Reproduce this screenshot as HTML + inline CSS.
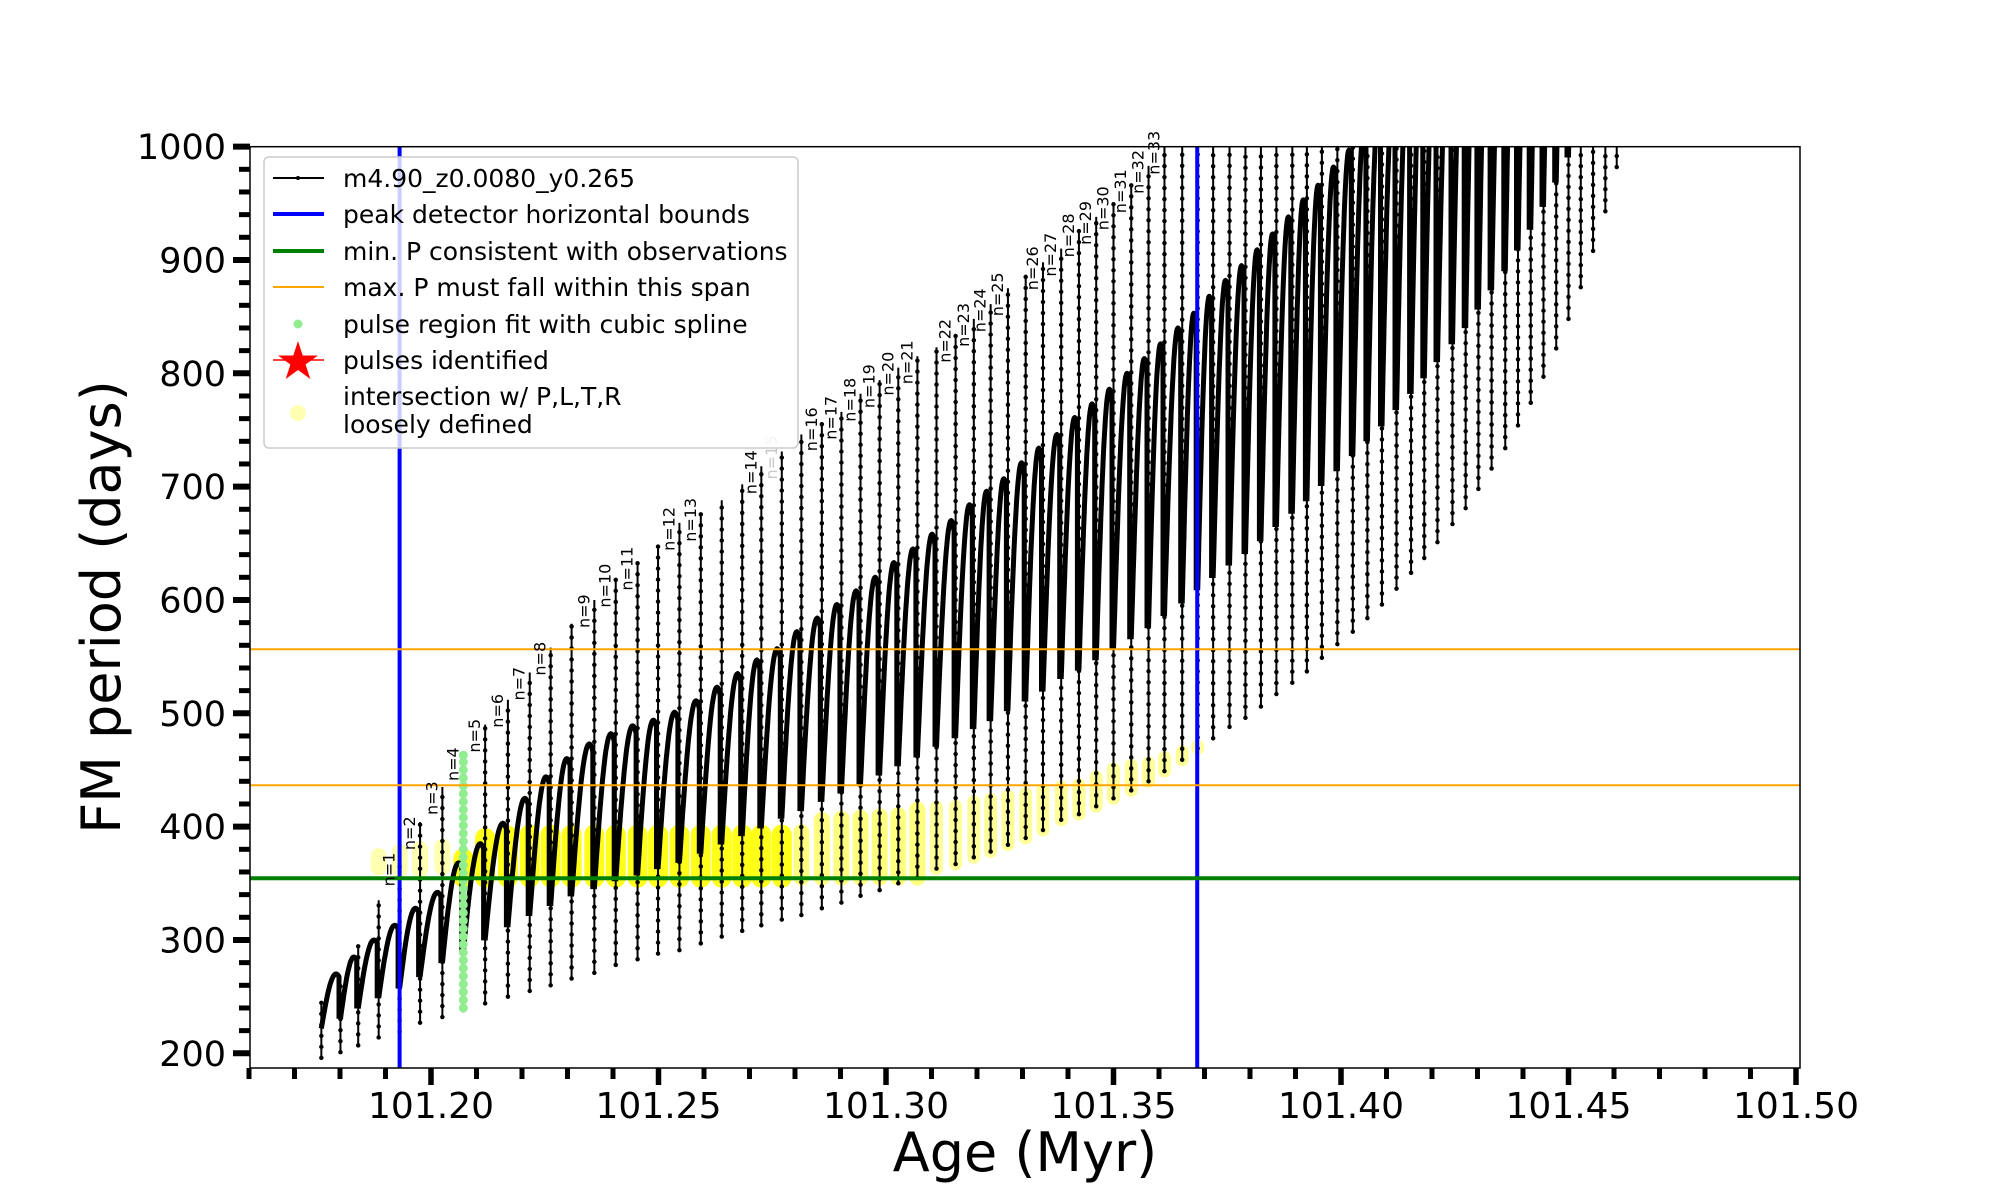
<!DOCTYPE html>
<html><head><meta charset="utf-8"><style>
html,body{margin:0;padding:0;background:#fff;}
svg{display:block;font-family:"DejaVu Sans","Liberation Sans",sans-serif;}
</style></head><body>
<svg id="chart" width="2000" height="1200" viewBox="0 0 2000 1200" xmlns="http://www.w3.org/2000/svg">
<defs><clipPath id="plotclip"><rect x="250" y="146.7" width="1550" height="921.3"/></clipPath></defs>
<g id="plot" clip-path="url(#plotclip)"></g>
<g id="axes"></g>
<g id="legend"></g>
</svg>
<script>
const ages=[101.1759,101.1801,101.1840,101.1885,101.1931,101.1976,101.2025,101.2071,101.2119,101.2169,
101.2217,101.2263,101.2309,101.2359,101.2406,101.2454,101.2499,101.2546,101.2593,101.2639,
101.2684,101.2726,101.2771,101.2814,101.2859,101.2902,101.2944,101.2986,101.3027,101.3069,
101.3111,101.3153,101.3193,101.3230,101.3268,101.3307,101.3345,101.3385,101.3424,101.3462,
101.3500,101.3539,101.3577,101.3612,101.3651,101.3685,101.3719,101.3755,101.3790,101.3824,
101.3858,101.3893,101.3925,101.3958,101.3992,101.4026,101.4058,101.4090,101.4122,101.4154,
101.4183,101.4212,101.4245,101.4274,101.4302,101.4331,101.4361,101.4389,101.4417,101.4445,
101.4473,101.4500,101.4527,101.4554,101.4581,101.4606];
const minP=[196,201,207,214,219,227,232,238,244,250,255,260,266,271,278,283,288,291,297,303,
308,313,318,322,328,333,339,344,350,355,363,367,373,378,384,390,397,406,411,418,
425,432,440,449,459,469,478,488,496,506,517,527,537,549,561,572,584,596,610,624,
637,651,667,681,698,716,734,754,774,797,822,848,876,908,943,982];
const topP=[245,262,296,335,372,404,435,465,490,512,536,558,579,600,618,633,648,668,676,688,
702,718,731,746,756,766,782,794,805,815,823,834,848,861,875,887,898,910,927,938,
951,966,983,1050,1050,1050,1050,1050,1050,1050,1050,1050,1050,1050,1050,1050,1050,1050,1050,1050,
1050,1050,1050,1050,1050,1050,1050,1050,1050,1050,1050,1050,1050,1050,1050,1050];
const humpP=[270,285,300,313,328,342,368,385,403,425,444,460,473,482,489,494,501,511,523,535,
547,557,572,584,596,608,620,633,645,658,670,684,696,707,721,734,746,761,773,786,
800,813,826,840,853,868,882,895,909,923,938,953,966,982,997,1015,1030,1045,1060,1075,
1090,1105,1120,1135,1150,1165,1180,1195,1210,1225,1240,1255,1270,1285,1300,1315];
const yellowIdx=[3,4,5,6,7,8,9,10,11,12,13,14,15,16,17,18,19,20,21,22,23,24,25,26,27,28,29,30,31,32,33,34,35,36,37,38,39,40,41,42,43,44,45];
const yellowLo=[364,362,362,364,355,355,355,355,355,355,355,355,355,355,355,355,355,355,355,355,355,355,355,355,355,355,355,363,367,373,378,384,390,397,406,411,418,425,432,440,449,459,469];
const yellowHi=[374,378,380,382,372,390,392,393,393,393,393,393,393,393,393,393,393,393,393,393,395,406,407,408,409,410,415,417,418,422,424,427,429,432,435,437,444,451,454,456,461,466,471];
const labelIdx=[4,5,6,7,8,9,10,11,13,14,15,17,18,21,22,24,25,26,27,28,29,31,32,33,34,36,37,38,39,40,41,42,43];
const labelText=["n=1","n=2","n=3","n=4","n=5","n=6","n=7","n=8","n=9","n=10","n=11","n=12","n=13","n=14","n=15","n=16","n=17","n=18","n=19","n=20","n=21","n=22","n=23","n=24","n=25","n=26","n=27","n=28","n=29","n=30","n=31","n=32","n=33"];
const greenAge=101.2071;
const greenP=[240,247,254,261,268,275,282,289,296,303,310,317,324,331,338,345,352,359,366,373,380,387,394,401,408,415,422,429,436,443,450,457,463];
const blueAges=[101.1931,101.3684];
const greenLineP=[354.5];
const orangeP=[436.5,556.5];
const xTicks=[101.20,101.25,101.30,101.35,101.40,101.45,101.50];
const xTickLabels=["101.20","101.25","101.30","101.35","101.40","101.45","101.50"];
const yTicks=[200,300,400,500,600,700,800,900,1000];
const yTickLabels=["200","300","400","500","600","700","800","900","1000"];

const NS="http://www.w3.org/2000/svg";
const X0=250,X1=1800,Y0=146.7,Y1=1068;
function sx(a){return 431+(a-101.2)*4550;}
function sy(p){return 1053.3-(p-200)*1.13333;}
function el(tag,attrs,parent){const e=document.createElementNS(NS,tag);for(const k in attrs)e.setAttribute(k,attrs[k]);parent.appendChild(e);return e;}
const plot=document.getElementById('plot'),axes=document.getElementById('axes'),leg=document.getElementById('legend');

for(let j=0;j<yellowIdx.length;j++){
  const k=yellowIdx[j];const x=sx(ages[k]);
  let op=0.9,w=20;
  if(k<7){op=0.3;w=16;}else if(k>=23&&k<30){op=0.5;w=16;}else if(k>=30){op=0.4;w=13;}
  const l=el('line',{x1:x,x2:x,y1:sy(yellowLo[j]),y2:sy(yellowHi[j]),stroke:'#ffff00','stroke-width':w,'stroke-linecap':'round','stroke-opacity':op},plot);
  
  
}
let d='';
for(let k=0;k<ages.length;k++){
  const x=sx(ages[k]);
  const s=minP[k]+0.35*(humpP[k]-minP[k]);
  const sp=el('line',{x1:x,x2:x,y1:sy(minP[k]),y2:sy(topP[k]),stroke:'#000','stroke-width':2},plot);
  
  
  const dt=el('line',{x1:x,x2:x,y1:sy(minP[k]),y2:sy(topP[k]),stroke:'#000','stroke-width':4.5,'stroke-linecap':'round','stroke-dasharray':'0 11'},plot);
  
  
  if(k<ages.length-1){
    const xn=sx(ages[k+1]);
    let seg='M'+x.toFixed(1)+','+sy(s).toFixed(1);
    for(let i=1;i<=24;i++){
      const u=i/24;const f=Math.sin(u*0.6*Math.PI);
      const p=s+(humpP[k]-s)*f;
      seg+=' L'+(x+(xn-x-1.5)*u).toFixed(1)+','+sy(p).toFixed(1);
    }
    const sn=minP[k+1]+0.35*(humpP[k+1]-minP[k+1]);
    seg+=' L'+(xn-1.5).toFixed(1)+','+sy(sn).toFixed(1);
    d+=seg;
  } else {
    d+='M'+x.toFixed(1)+','+sy(s).toFixed(1)+' L'+x.toFixed(1)+','+sy(humpP[k]).toFixed(1);
  }
}
const sr=el('path',{d:d,fill:'none',stroke:'#000','stroke-width':5,'stroke-linejoin':'round'},plot);


for(let i=0;i<greenP.length;i++){
  const c=el('circle',{cx:sx(greenAge),cy:sy(greenP[i]),r:4.5,fill:'#90ee90'},plot);
  
  
}
for(const a of blueAges){
  const l=el('line',{x1:sx(a),x2:sx(a),y1:Y0,y2:Y1,stroke:'#0000ff','stroke-width':4},plot);
  
  
}
for(const p of greenLineP){
  const l=el('line',{x1:X0,x2:X1,y1:sy(p),y2:sy(p),stroke:'#008000','stroke-width':4},plot);
  
  
}
for(const p of orangeP){
  const l=el('line',{x1:X0,x2:X1,y1:sy(p),y2:sy(p),stroke:'#ffa500','stroke-width':2},plot);
  
  
}
for(let j=0;j<labelIdx.length;j++){
  const k=labelIdx[j];const x=sx(ages[k])-5;const y=Math.max(sy(topP[k]),Y0)+28;
  const t=el('text',{x:0,y:0,transform:'translate('+x.toFixed(1)+','+y.toFixed(1)+') rotate(-90)','font-size':16,fill:labelText[j]==='n=15'?'#c8c8c8':'#000'},axes);
  t.textContent=labelText[j];
  
  
}
const fr=el('rect',{x:X0,y:Y0,width:X1-X0,height:Y1-Y0,fill:'none',stroke:'#000','stroke-width':1.5},axes);


for(let v=101.16;v<=101.5001;v+=0.01){
  const x=sx(v);const major=Math.abs(v*20-Math.round(v*20))<1e-6;
  const t=el('line',{x1:x,x2:x,y1:Y1,y2:Y1+(major?17:11),stroke:'#000','stroke-width':major?5.5:5},axes);
  
  
}
for(let i=0;i<xTicks.length;i++){
  const t=el('text',{x:sx(xTicks[i]),y:1118,'font-size':36,'text-anchor':'middle',fill:'#000'},axes);
  t.textContent=xTickLabels[i];
  
  
}
for(let v=200;v<=1000;v+=20){
  const y=sy(v);const major=v%100===0;
  const t=el('line',{x1:X0-(major?17:11),x2:X0,y1:y,y2:y,stroke:'#000','stroke-width':major?6:5},axes);
  
  
}
for(let i=0;i<yTicks.length;i++){
  const t=el('text',{x:226,y:sy(yTicks[i])+12.5,'font-size':35,'text-anchor':'end',fill:'#000'},axes);
  t.textContent=yTickLabels[i];
  
  
}
const xt=el('text',{x:1025,y:1171,'font-size':54,'text-anchor':'middle',fill:'#000'},axes);
xt.textContent='Age (Myr)';


const yt=el('text',{x:0,y:0,transform:'translate(120,607) rotate(-90)','font-size':54,'text-anchor':'middle',fill:'#000'},axes);
yt.textContent='FM period (days)';



const box=el('rect',{x:264,y:157,width:534,height:291,rx:5,fill:'#fff','fill-opacity':0.8,stroke:'#cccccc','stroke-width':1.5},leg);


const rows=[178,214,251,287,324,360];
const texts=['m4.90_z0.0080_y0.265','peak detector horizontal bounds','min. P consistent with observations','max. P must fall within this span','pulse region fit with cubic spline','pulses identified'];
const names=['legend-entry-model','legend-entry-peak-bounds','legend-entry-min-p','legend-entry-max-p','legend-entry-spline','legend-entry-pulses'];
for(let i=0;i<rows.length;i++){
  const g=el('g',{},leg);
  
  
  const y=rows[i];
  if(i===0){el('line',{x1:273,x2:324,y1:y,y2:y,stroke:'#000','stroke-width':2},g);el('circle',{cx:298,cy:y,r:2,fill:'#000'},g);}
  if(i===1)el('line',{x1:273,x2:324,y1:y,y2:y,stroke:'#0000ff','stroke-width':4},g);
  if(i===2)el('line',{x1:273,x2:324,y1:y,y2:y,stroke:'#008000','stroke-width':4},g);
  if(i===3)el('line',{x1:273,x2:324,y1:y,y2:y,stroke:'#ffa500','stroke-width':2},g);
  if(i===4)el('circle',{cx:298,cy:y,r:4.5,fill:'#90ee90'},g);
  if(i===5){
    let pts='';for(let q=0;q<10;q++){const r=q%2?8:21;const a=-Math.PI/2+q*Math.PI/5;pts+=(298+r*Math.cos(a)).toFixed(1)+','+(y+2+r*Math.sin(a)).toFixed(1)+' ';}
    el('polygon',{points:pts,fill:'#ff0000'},g);
    el('line',{x1:273,x2:324,y1:y,y2:y,stroke:'#ff0000','stroke-width':1.5},g);
  }
  const t=el('text',{x:343,y:y+9,'font-size':25,fill:'#000'},g);
  t.textContent=texts[i];
}
const gi=el('g',{},leg);


el('circle',{cx:298,cy:413,r:8,fill:'#ffff00','fill-opacity':0.3},gi);
const t1=el('text',{x:343,y:405,'font-size':25,fill:'#000'},gi);t1.textContent='intersection w/ P,L,T,R';
const t2=el('text',{x:343,y:433,'font-size':25,fill:'#000'},gi);t2.textContent='loosely defined';
</script>
</body></html>
